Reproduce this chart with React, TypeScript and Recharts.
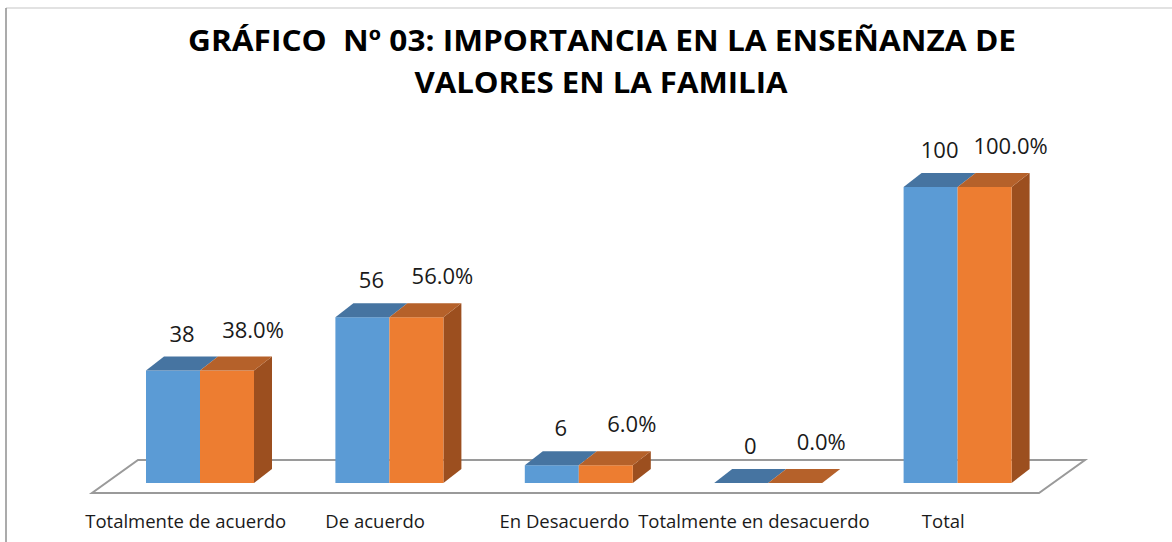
import React from 'react';
import { BarChart, Bar, XAxis, YAxis, LabelList, Customized } from 'recharts';

const categories = ['Totalmente de acuerdo', 'De acuerdo', 'En Desacuerdo', 'Totalmente en desacuerdo', 'Total'];
const counts = [38, 56, 6, 0, 100];
const percents = [38.0, 56.0, 6.0, 0.0, 100.0];
const titleLines = ['GRÁFICO  Nº 03: IMPORTANCIA EN LA ENSEÑANZA DE', 'VALORES EN LA FAMILIA'];

const data = categories.map((c, i) => ({ name: c, count: counts[i], pct: percents[i] }));

const W = 1172;
const H = 542;
const M = { top: 187, right: 120, bottom: 0, left: 105 };
const AXIS_H = 59;
const BASE_Y = H - M.bottom - AXIS_H;
const PLOT_L = M.left;
const PLOT_R = W - M.right;
const DX = 18;
const DY = 14;
const FONT = '"Open Sans", "Noto Sans", "DejaVu Sans", sans-serif';

const BLUE = '#5B9BD5';
const BLUE_TOP = '#4674A1';
const ORANGE = '#ED7D31';
const ORANGE_TOP = '#B5612A';
const ORANGE_SIDE = '#9C4F1F';

const Floor = () => {
  const fl = [PLOT_L - 13, BASE_Y + 10];
  const fr = [PLOT_R - 13, BASE_Y + 10];
  const br = [PLOT_R + 33, BASE_Y - 23];
  const bl = [PLOT_L + 33, BASE_Y - 23];
  const pts = [fl, fr, br, bl].map((p) => p.join(',')).join(' ');
  return (
    <g>
      <line x1={6} y1={8} x2={W} y2={8} stroke="#D9D9D9" strokeWidth={1.5} />
      <line x1={6} y1={8} x2={6} y2={H} stroke="#8F8F8F" strokeWidth={1.5} />
      <polygon points={pts} fill="#FFFFFF" stroke="#9A9A9A" strokeWidth={2} />
    </g>
  );
};

const Title = () => (
  <g fontFamily={FONT} fontWeight={700} fill="#000">
    <text x={602} y={51} fontSize={29} textAnchor="middle" textLength={828} lengthAdjust="spacingAndGlyphs" style={{ whiteSpace: 'pre' }}>
      {titleLines[0]}
    </text>
    <text x={601} y={93} fontSize={29} textAnchor="middle" textLength={373} lengthAdjust="spacingAndGlyphs">
      {titleLines[1]}
    </text>
  </g>
);

const BlueShape = (props: any) => {
  const { x, y, width, height } = props;
  const top = `${x},${y} ${x + DX},${y - DY} ${x + width + DX},${y - DY} ${x + width},${y}`;
  return (
    <g>
      {height > 0 && <rect x={x} y={y} width={width} height={height} fill={BLUE} />}
      <polygon points={top} fill={BLUE_TOP} />
    </g>
  );
};

const OrangeShape = (props: any) => {
  const { x, y, width, height } = props;
  const top = `${x},${y} ${x + DX},${y - DY} ${x + width + DX},${y - DY} ${x + width},${y}`;
  const side = `${x + width},${y} ${x + width + DX},${y - DY} ${x + width + DX},${y + height - DY} ${x + width},${y + height}`;
  return (
    <g>
      {height > 0 && <polygon points={side} fill={ORANGE_SIDE} />}
      {height > 0 && <rect x={x} y={y} width={width} height={height} fill={ORANGE} />}
      <polygon points={top} fill={ORANGE_TOP} />
    </g>
  );
};

const BlueLabel = (props: any) => {
  const { x, y, width, value } = props;
  return (
    <text x={x + width / 2 + 9} y={y - 29} textAnchor="middle" fontFamily={FONT} fontSize={22} fill="#1A1A1A">
      {String(value)}
    </text>
  );
};

const OrangeLabel = (props: any) => {
  const { x, y, width, value } = props;
  return (
    <text x={x + width / 2 + 26} y={y - 33} textAnchor="middle" fontFamily={FONT} fontSize={22} fill="#1A1A1A">
      {Number(value).toFixed(1) + '%'}
    </text>
  );
};

const Tick = (props: any) => {
  const { x, y, payload } = props;
  return (
    <text x={x - 14} y={y + 45} textAnchor="middle" fontFamily={FONT} fontSize={18.5} fill="#1A1A1A">
      {payload.value}
    </text>
  );
};

export default function App() {
  return (
    <div style={{ position: 'absolute', left: 0, top: 0, width: W, height: H, background: '#fff' }}>
      <BarChart width={W} height={H} data={data} margin={M} barGap={0} barSize={54}>
        <Customized component={<Floor />} />
        <Customized component={<Title />} />
        <XAxis
          dataKey="name"
          height={AXIS_H}
          axisLine={false}
          tickLine={false}
          tickSize={0}
          tickMargin={0}
          interval={0}
          tick={<Tick />}
        />
        <YAxis hide domain={[0, 100]} />
        <Bar dataKey="count" shape={<BlueShape />} isAnimationActive={false}>
          <LabelList dataKey="count" content={<BlueLabel />} />
        </Bar>
        <Bar dataKey="pct" shape={<OrangeShape />} isAnimationActive={false}>
          <LabelList dataKey="pct" content={<OrangeLabel />} />
        </Bar>
      </BarChart>
    </div>
  );
}
